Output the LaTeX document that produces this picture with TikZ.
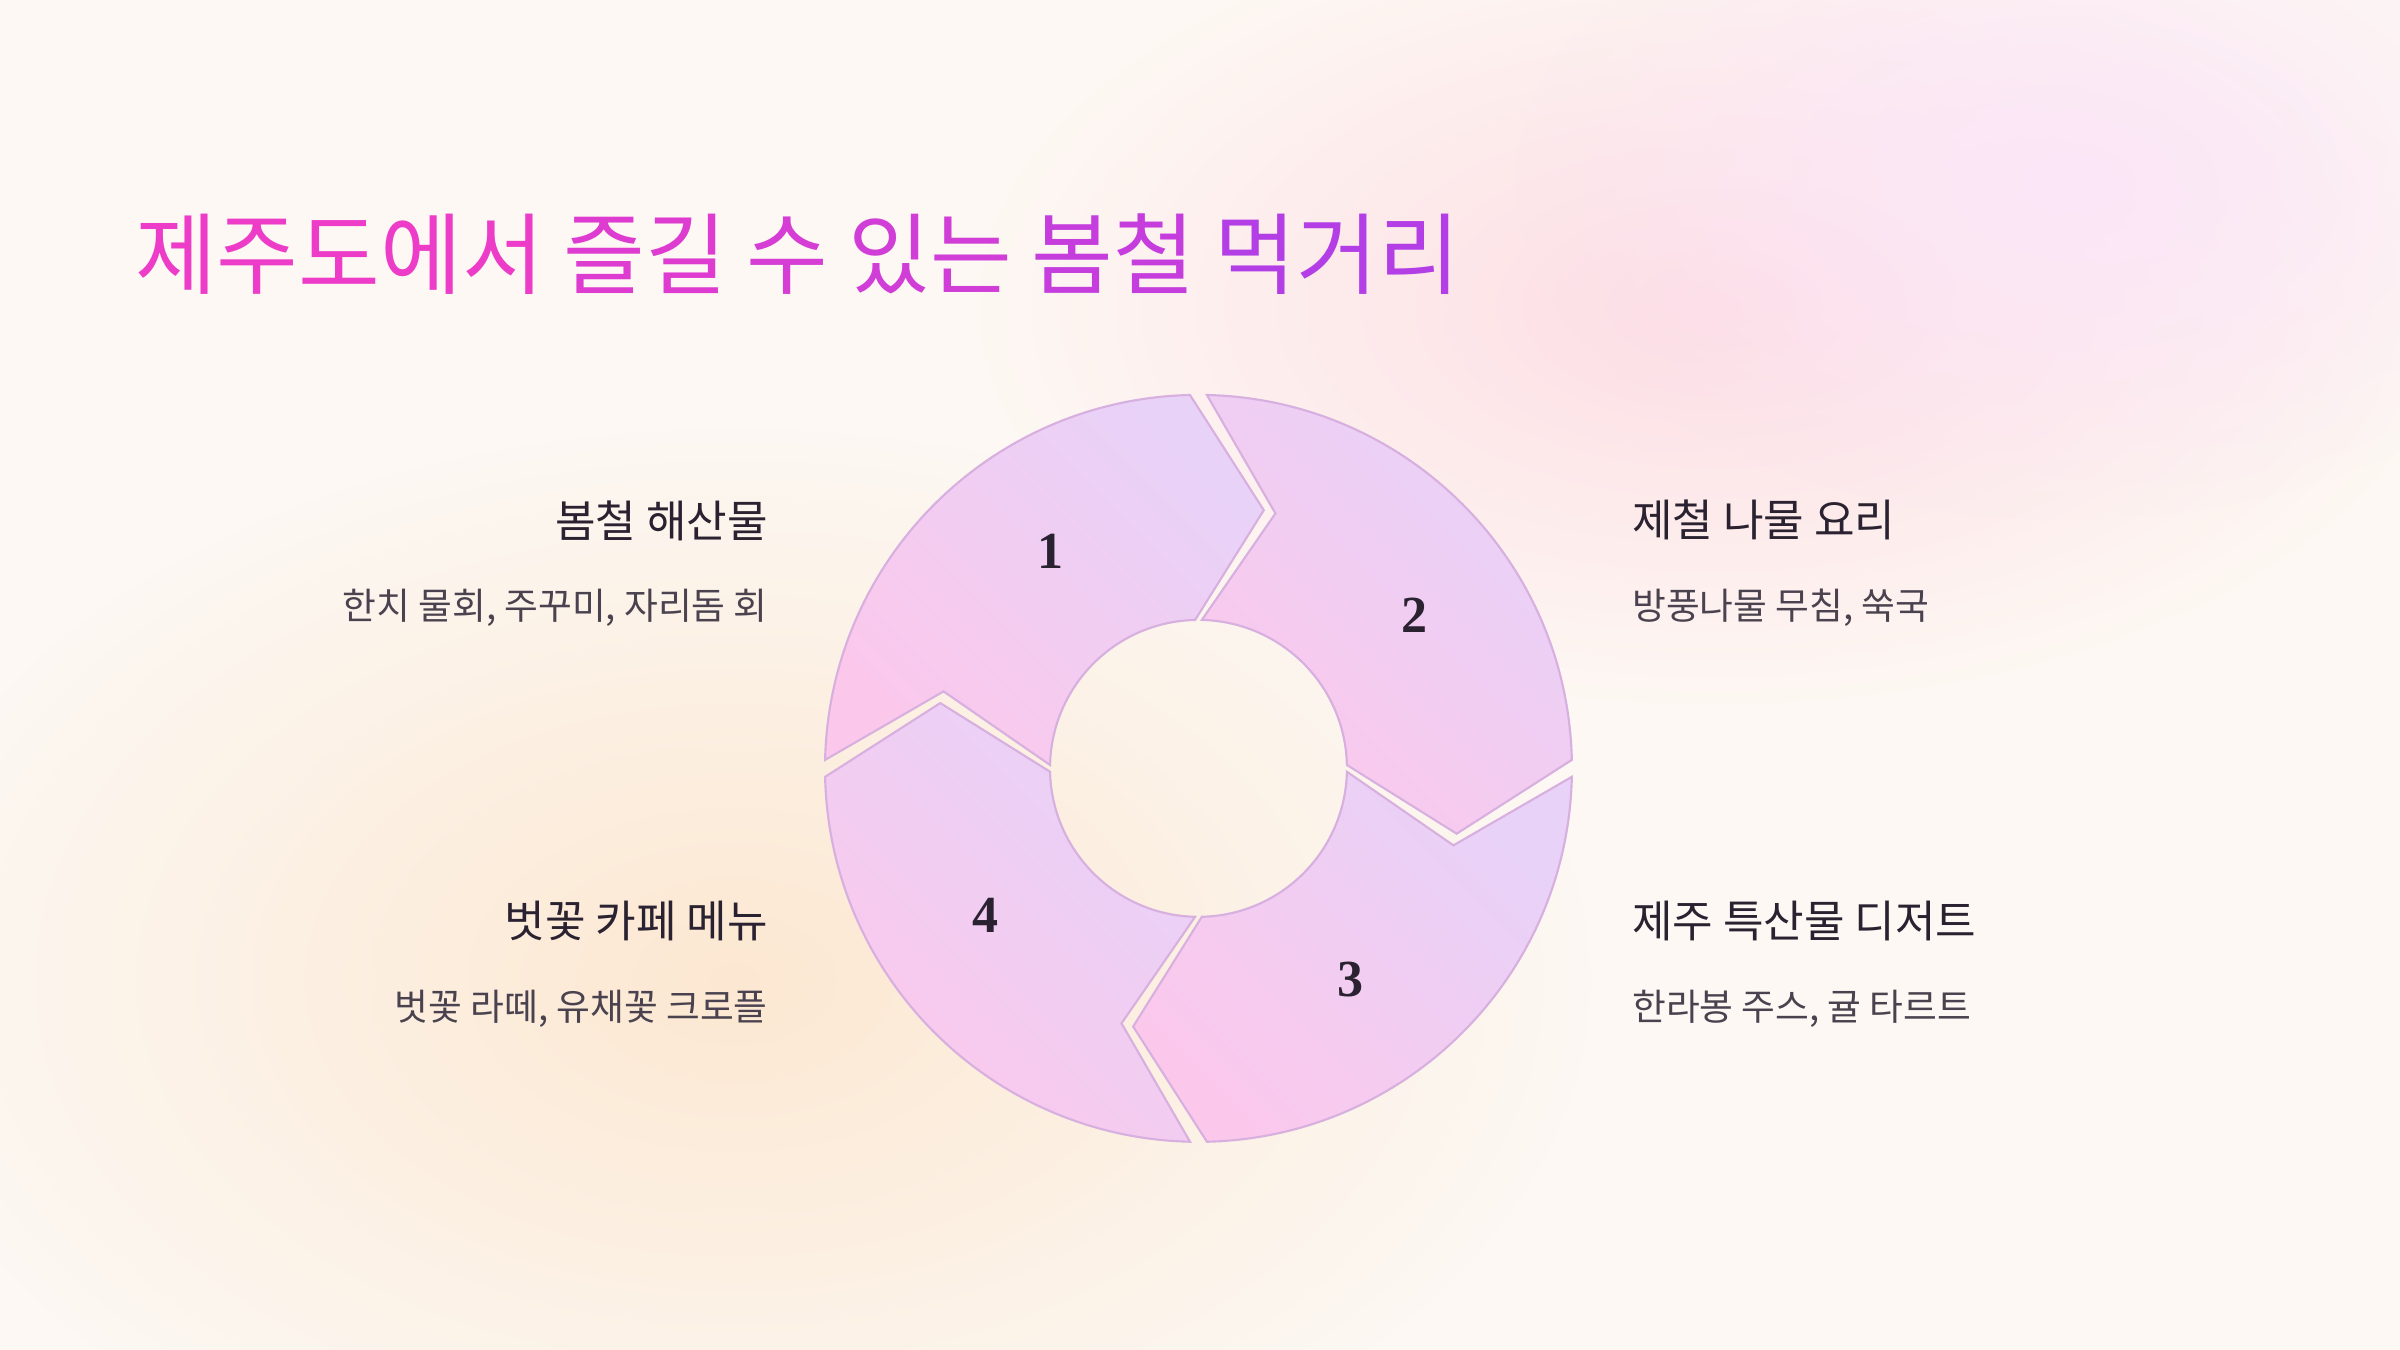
\documentclass[tikz,border=0pt]{standalone}
\usepackage{fontspec}
\usetikzlibrary{fadings}
\setmainfont{Noto Sans CJK KR}
\newfontfamily\numfont{Liberation Serif}
\definecolor{bgc}{HTML}{FDF8F3}
\definecolor{pinkbg}{HTML}{FDDDE4}
\definecolor{lavbg}{HTML}{FBE6F8}
\definecolor{peachbg}{HTML}{FCE8D2}
\definecolor{segpink}{HTML}{FBC8EC}
\definecolor{seglav}{HTML}{E8D2F8}
\definecolor{segborder}{HTML}{D8B0E0}
\definecolor{txt}{HTML}{2A2230}
\definecolor{ta}{HTML}{EC3CC8}
\definecolor{tb}{HTML}{B43EE6}
\tikzfading[name=blobfade, inner color=transparent!0, outer color=transparent!100]
\begin{document}
\begin{tikzpicture}[x=0.5pt,y=0.5pt,
  seg/.style={draw=segborder,line width=0.7pt,top color=seglav,bottom color=segpink,shading angle=-45},
  head/.style={font=\fontsize{14.4}{18}\selectfont,text=txt,inner sep=0pt},
  sub/.style={font=\fontsize{12}{14}\selectfont,text=txt!85,inner sep=0pt},
  num/.style={font=\numfont\bfseries\fontsize{17}{20}\selectfont,text=txt,inner sep=0pt}]
\fill[bgc] (0,0) rectangle (1568,-882);
\useasboundingbox (0,0) rectangle (1568,-882);
\begin{scope}
\clip (0,0) rectangle (1568,-882);
\fill[peachbg,path fading=blobfade] (480,-640) ellipse (560 and 360);
\fill[pinkbg,path fading=blobfade] (1120,-200) ellipse (480 and 260);
\fill[lavbg,path fading=blobfade] (1350,-120) ellipse (360 and 220);
\end{scope}
\node[anchor=west,inner sep=0pt,font=\fontsize{29}{34}\selectfont] (title) at (88,-166)
 {\textcolor{ta}{제주도에서} \textcolor{ta!75!tb}{즐길} \textcolor{ta!60!tb}{수} \textcolor{ta!50!tb}{있는} \textcolor{ta!30!tb}{봄철} \textcolor{tb}{먹거리}};
\begin{scope}[shift={(783,-502)}]
\def\g{1.3}
\foreach \s/\e in {180/90,90/0,0/-90,-90/-180}{
 \path[seg] (\s-\g:122pt) arc[start angle=\s-\g,end angle=\e+\g,radius=122pt]
  -- (\e-15.5+\g:87pt) -- (\e+\g:48.5pt)
  arc[start angle=\e+\g,end angle=\s-\g,radius=48.5pt]
  -- (\s-15.5-\g:87pt) -- cycle;
}
\end{scope}
\node[num] (n1) at (686,-360) {1};
\node[num] (n2) at (924,-402) {2};
\node[num] (n3) at (882,-640) {3};
\node[num] (n4) at (644,-598) {4};
\node[head,anchor=east] (h1) at (502,-340) {봄철 해산물};
\node[sub,anchor=east] (s1) at (502,-397) {한치 물회, 주꾸미, 자리돔 회};
\node[head,anchor=east] (h4) at (502,-602) {벗꽃 카페 메뉴};
\node[sub,anchor=east] (s4) at (502,-659) {벗꽃 라떼, 유채꽃 크로플};
\node[head,anchor=west] (h2) at (1066,-340) {제철 나물 요리};
\node[sub,anchor=west] (s2) at (1066,-397) {방풍나물 무침, 쑥국};
\node[head,anchor=west] (h3) at (1066,-602) {제주 특산물 디저트};
\node[sub,anchor=west] (s3) at (1066,-659) {한라봉 주스, 귤 타르트};
\end{tikzpicture}
\end{document}
